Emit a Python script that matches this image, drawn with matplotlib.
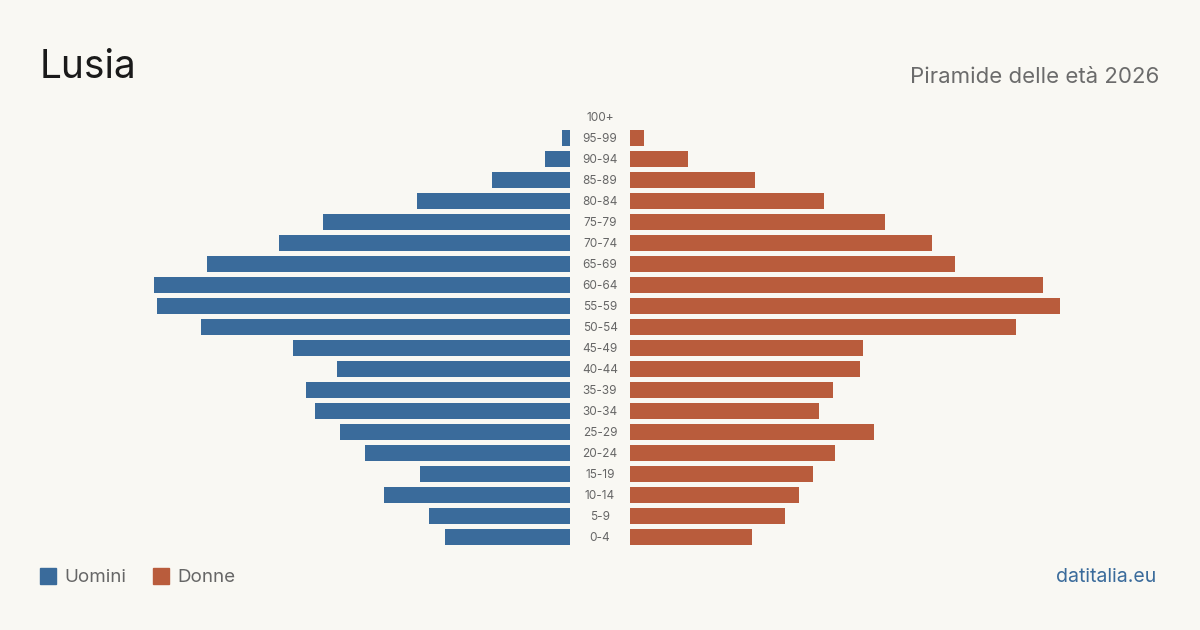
import matplotlib
matplotlib.use("Agg")
import matplotlib.pyplot as plt
from matplotlib.patches import Rectangle

age_groups = ["0-4", "5-9", "10-14", "15-19", "20-24", "25-29", "30-34", "35-39",
              "40-44", "45-49", "50-54", "55-59", "60-64", "65-69", "70-74", "75-79",
              "80-84", "85-89", "90-94", "95-99", "100+"]
men = [125, 141, 186, 150, 205, 230, 255, 264, 233, 277, 369, 413, 416, 363, 291,
       247, 153, 78, 25, 8, 0]
women = [122, 155, 169, 183, 205, 244, 189, 203, 230, 233, 386, 430, 413, 325, 302,
         255, 194, 125, 58, 14, 0]

BG = "#f9f8f3"
BLUE = "#3a6b9b"
ORANGE = "#b95c3c"
FONT = ["Inter", "DejaVu Sans"]
plt.rcParams["font.family"] = FONT

fig = plt.figure(figsize=(12, 6.3), dpi=100, facecolor=BG)
xmax = 430
bot_px = 547.5
bottom = 1 - bot_px / 630
height = 441 / 630
axL = fig.add_axes([140 / 1200, bottom, 430 / 1200, height])
axR = fig.add_axes([630 / 1200, bottom, 430 / 1200, height])
y = list(range(len(age_groups)))
axL.barh(y, men, height=0.8, color=BLUE)
axR.barh(y, women, height=0.8, color=ORANGE)
axL.set_xlim(xmax, 0)
axR.set_xlim(0, xmax)
for ax in (axL, axR):
    ax.set_ylim(-0.5, len(age_groups) - 0.5)
    ax.axis("off")
    ax.set_facecolor("none")

for i, lab in enumerate(age_groups):
    yy = (bot_px - (i + 0.5) * 21) + 1
    fig.text(600 / 1200, 1 - yy / 630, lab, ha="center", va="center",
             fontsize=8.5, color="#666666")

fig.text(40 / 1200, 1 - 68 / 630, "Lusia", fontsize=28, color="#1a1a1a",
         ha="left", va="center")
fig.text(1159 / 1200, 1 - 77 / 630, "Piramide delle età 2026", fontsize=16,
         color="#6b6b6b", ha="right", va="center")

# legend
fig.patches.append(Rectangle((40 / 1200, 1 - 584 / 630), 16 / 1200, 16 / 630,
                             transform=fig.transFigure, color=BLUE))
fig.text(64 / 1200, 1 - 577.5 / 630, "Uomini", fontsize=13.5, color="#666666",
         ha="left", va="center")
fig.patches.append(Rectangle((153 / 1200, 1 - 584 / 630), 16 / 1200, 16 / 630,
                             transform=fig.transFigure, color=ORANGE))
fig.text(177 / 1200, 1 - 577.5 / 630, "Donne", fontsize=13.5, color="#666666",
         ha="left", va="center")
fig.text(1156 / 1200, 1 - 577.5 / 630, "datitalia.eu", fontsize=14, color="#3a6b9b",
         ha="right", va="center")

fig.savefig("out.png", dpi=100, facecolor=BG)
